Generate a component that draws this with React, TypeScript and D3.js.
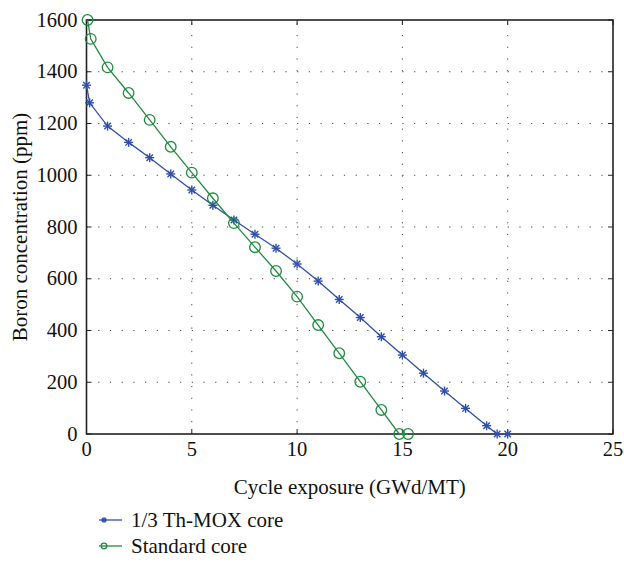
import React from "react";
import * as d3 from "d3";

const thmoxX = [0, 0.15, 1, 2, 3, 4, 5, 6, 7, 8, 9, 10, 11, 12, 13, 14, 15, 16, 17, 18, 19, 19.5, 20];
const thmoxY = [1348, 1280, 1190, 1127, 1068, 1005, 943, 884, 827, 772, 718, 657, 591, 520, 450, 376, 305, 235, 166, 99, 32, 0, 0];
const stdX = [0.05, 0.2, 1, 2, 3, 4, 5, 6, 7, 8, 9, 10, 11, 12, 13, 14, 14.85, 15.27];
const stdY = [1600, 1527, 1417, 1318, 1214, 1110, 1010, 911, 815, 722, 630, 531, 421, 312, 202, 93, 0, 0];
const xTicks = [0, 5, 10, 15, 20, 25];
const yTicks = [0, 200, 400, 600, 800, 1000, 1200, 1400, 1600];
const seriesNames = ["1/3 Th-MOX core", "Standard core"];

const BLUE = "#2f4fab";
const GREEN = "#1f8c3f";
const fs = (size: number) => ({ fontFamily: '"Liberation Serif"', fontSize: size });

function Star({ x, y, color, s = 4.5 }: { x: number; y: number; color: string; s?: number }) {
  const d = s * 0.72;
  return (
    <g stroke={color} strokeWidth={1.4}>
      <line x1={x - s} y1={y} x2={x + s} y2={y} />
      <line x1={x} y1={y - s} x2={x} y2={y + s} />
      <line x1={x - d} y1={y - d} x2={x + d} y2={y + d} />
      <line x1={x - d} y1={y + d} x2={x + d} y2={y - d} />
    </g>
  );
}

export default function App() {
  const W = 624, H = 566;
  const x = d3.scaleLinear().domain([0, 25]).range([86.5, 613]);
  const y = d3.scaleLinear().domain([0, 1600]).range([434, 20]);
  const line = d3.line<[number, number]>().x((d) => x(d[0])).y((d) => y(d[1]));
  const th: [number, number][] = thmoxX.map((v, i) => [v, thmoxY[i]]);
  const st: [number, number][] = stdX.map((v, i) => [v, stdY[i]]);
  const [x0, x1] = x.range();
  const [y0, y1] = y.range();
  const tl = 5;
  return (
    <svg width={W} height={H} style={{ display: "block", position: "absolute", left: 0, top: 0 }}>
      <rect width={W} height={H} fill="white" />
      {/* grid */}
      <g stroke="#444" strokeWidth={1} strokeDasharray="1.2,10.5">
        {xTicks.slice(1, -1).map((t) => (
          <line key={"gx" + t} x1={x(t)} x2={x(t)} y1={y0} y2={y1} />
        ))}
        {yTicks.slice(1, -1).map((t) => (
          <line key={"gy" + t} x1={x0} x2={x1} y1={y(t)} y2={y(t)} />
        ))}
      </g>
      {/* ticks */}
      <g stroke="#222" strokeWidth={1}>
        {xTicks.map((t) => (
          <g key={"tx" + t}>
            <line x1={x(t)} x2={x(t)} y1={y0} y2={y0 - tl} />
            <line x1={x(t)} x2={x(t)} y1={y1} y2={y1 + tl} />
          </g>
        ))}
        {yTicks.map((t) => (
          <g key={"ty" + t}>
            <line x1={x0} x2={x0 + tl} y1={y(t)} y2={y(t)} />
            <line x1={x1} x2={x1 - tl} y1={y(t)} y2={y(t)} />
          </g>
        ))}
      </g>
      <rect x={x0} y={y1} width={x1 - x0} height={y0 - y1} fill="none" stroke="#222" strokeWidth={1.6} />
      {/* tick labels */}
      <g fill="#111">
        {xTicks.map((t) => (
          <text key={"lx" + t} x={x(t)} y={y0 + 22} textAnchor="middle" style={fs(20.5)}>{t}</text>
        ))}
        {yTicks.map((t) => (
          <text key={"ly" + t} x={x0 - 9} y={y(t) + 6.5} textAnchor="end" style={fs(20.5)}>{t}</text>
        ))}
      </g>
      <text x={(x0 + x1) / 2} y={494} textAnchor="middle" fill="#111" style={fs(21)}>Cycle exposure (GWd/MT)</text>
      <text transform={`translate(27,${(y0 + y1) / 2}) rotate(-90)`} textAnchor="middle" fill="#111" style={fs(21)}>Boron concentration (ppm)</text>
      {/* series */}
      <path d={line(th) || ""} fill="none" stroke={BLUE} strokeWidth={1.3} />
      {th.map((d, i) => (
        <Star key={"s" + i} x={x(d[0])} y={y(d[1])} color={BLUE} />
      ))}
      <path d={line(st) || ""} fill="none" stroke={GREEN} strokeWidth={1.3} />
      {st.map((d, i) => (
        <circle key={"c" + i} cx={x(d[0])} cy={y(d[1])} r={5.3} fill="none" stroke={GREEN} strokeWidth={1.3} />
      ))}
      {/* legend */}
      <g>
        <line x1={99} x2={122} y1={520} y2={520} stroke={BLUE} strokeWidth={1.3} />
        <Star x={104} y={520} color={BLUE} s={2.8} />
        <text x={131} y={526.5} fill="#111" style={fs(21)}>{seriesNames[0]}</text>
        <line x1={99} x2={122} y1={546} y2={546} stroke={GREEN} strokeWidth={1.3} />
        <circle cx={104} cy={546} r={2.8} fill="none" stroke={GREEN} strokeWidth={1.3} />
        <text x={131} y={552.5} fill="#111" style={fs(21)}>{seriesNames[1]}</text>
      </g>
    </svg>
  );
}
